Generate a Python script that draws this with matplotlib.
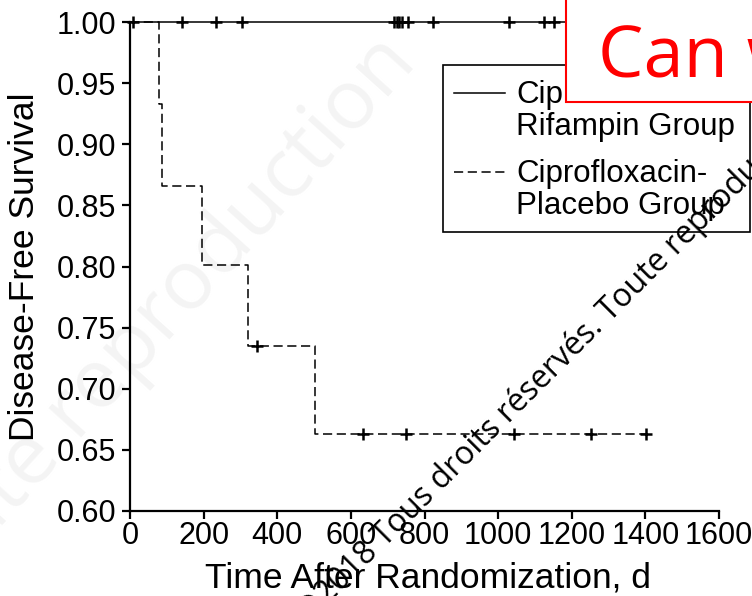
import matplotlib
matplotlib.use("Agg")
import matplotlib.pyplot as plt
from matplotlib.patches import Rectangle
from matplotlib.lines import Line2D

plt.rcParams['font.family'] = ['Liberation Sans', 'DejaVu Sans']

# ---------------- data ----------------
# Ciprofloxacin-Rifampin group: no events, censored observations only
rif_times = [0, 1400]
rif_surv = [1.0, 1.0]
rif_censor_times = [8, 141, 234, 305, 716, 724, 732, 740, 756, 824, 1029, 1124, 1151]

# Ciprofloxacin-Placebo group: step changes
plc_times = [0, 79, 86, 196, 321, 503, 1401]
plc_surv = [1.0, 0.933, 0.866, 0.801, 0.735, 0.663, 0.663]
plc_censor_times = [346, 634, 751, 1042, 1252, 1401]
plc_censor_surv = [0.735, 0.663, 0.663, 0.663, 0.663, 0.663]

x_ticks = [0, 200, 400, 600, 800, 1000, 1200, 1400, 1600]
y_ticks = [0.60, 0.65, 0.70, 0.75, 0.80, 0.85, 0.90, 0.95, 1.00]

labels = ["Ciprofloxacin-\nRifampin Group", "Ciprofloxacin-\nPlacebo Group"]

W, H = 752, 596
fig = plt.figure(figsize=(W / 100, H / 100), dpi=100)

def fx(px):
    return px / W

def fy(py):
    return 1 - py / H

# faint background watermark
fig.text(fx(150), fy(330), "Toute reproduction", fontsize=60, color="#f4f4f4",
         rotation=48, ha="center", va="center", family="Open Sans", zorder=-5)

ax = fig.add_axes([fx(130), fy(511), fx(719) - fx(130), fy(22) - fy(511)])
ax.patch.set_alpha(0)

ax.step(rif_times, rif_surv, where="post", color="black", lw=1.1, clip_on=False, zorder=3)
ax.plot(rif_censor_times, [1.0] * len(rif_censor_times), ls="none", marker="+",
        ms=9, mew=1.8, color="black", clip_on=False, zorder=3)

ax.step(plc_times, plc_surv, where="post", color="black", lw=1.1,
        dashes=(6, 3), clip_on=False, zorder=3)
ax.plot(plc_censor_times, plc_censor_surv, ls="none", marker="+",
        ms=9, mew=1.8, color="black", clip_on=False, zorder=3)

ax.set_xlim(0, 1600)
ax.set_ylim(0.60, 1.00)
ax.set_xticks(x_ticks)
ax.set_xticklabels([str(t) for t in x_ticks])
ax.set_yticks(y_ticks)
ax.set_yticklabels([f"{t:.2f}" for t in y_ticks])

for s in ["top", "right"]:
    ax.spines[s].set_visible(False)
for s in ["left", "bottom"]:
    ax.spines[s].set_linewidth(1.6)
ax.tick_params(axis="both", direction="out", width=1.6, labelsize=22, colors="black")
ax.tick_params(axis="x", length=6, pad=1.5)
ax.tick_params(axis="y", length=6, pad=4)

fig.text(fx(428), fy(578), "Time After Randomization, d", fontsize=25.5,
         ha="center", va="center")
fig.text(fx(25), fy(267), "Disease-Free Survival", fontsize=25.5,
         rotation=90, ha="center", va="center")

# ---- legend drawn manually (handles aligned with first label line) ----
fig.patches.append(Rectangle((fx(443), fy(232)), fx(750) - fx(443), fy(65) - fy(232),
                             transform=fig.transFigure, facecolor="white",
                             edgecolor="black", lw=1.2, zorder=5))
legend_rows = [(93, {}), (172, {"dashes": (6, 3)})]
for (row_y, style), lab in zip(legend_rows, labels):
    fig.add_artist(Line2D([fx(454), fx(505)], [fy(row_y), fy(row_y)],
                          transform=fig.transFigure, color="black", lw=1.1,
                          zorder=6, **style))
    line1, line2 = lab.split("\n")
    fig.text(fx(516), fy(row_y + 2), line1, fontsize=22.5, ha="left", va="center", zorder=6)
    fig.text(fx(516), fy(row_y + 34), line2, fontsize=22.5, ha="left", va="center", zorder=6)

# overlaid diagonal watermark
fig.text(fx(308), fy(624), "\u00a92018 Tous droits r\u00e9serv\u00e9s. Toute reproduction interdite",
         fontsize=23, rotation=45, rotation_mode="anchor", ha="left", va="baseline",
         family="Open Sans", color="black", zorder=10)

# red call-out box
fig.patches.append(Rectangle((fx(566), fy(102)), fx(800) - fx(566), fy(-10) - fy(102),
                             transform=fig.transFigure, facecolor="white",
                             edgecolor="red", lw=1.5, zorder=20))
fig.text(fx(598), fy(78), "Can w", fontsize=52, color="red", family="Open Sans",
         ha="left", va="baseline", zorder=21)

fig.savefig("out.png", dpi=100)
